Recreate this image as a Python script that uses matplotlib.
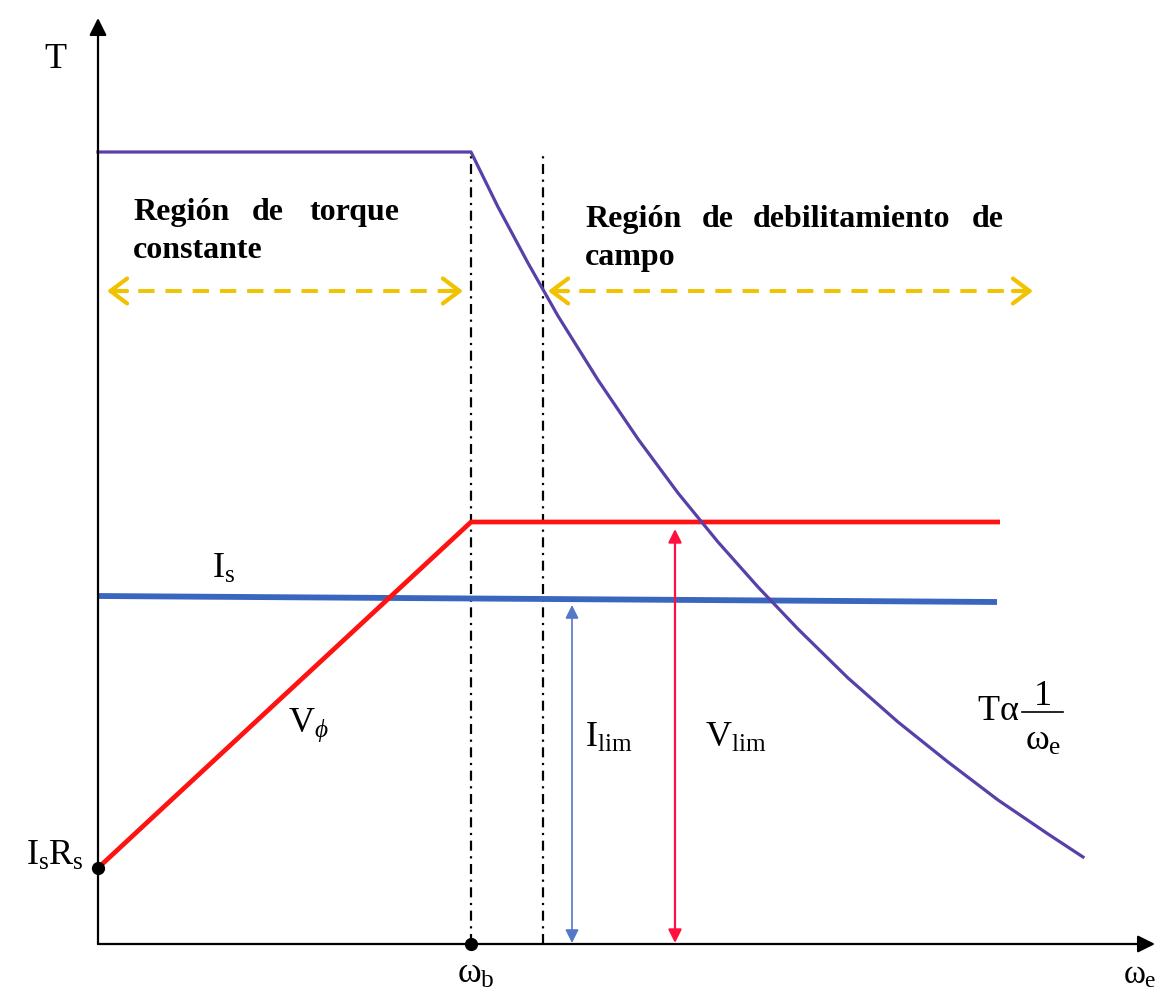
import matplotlib
matplotlib.use("Agg")
import matplotlib.pyplot as plt

plt.rcParams['font.family'] = ['Liberation Serif', 'DejaVu Serif']
plt.rcParams['mathtext.fontset'] = 'custom'
plt.rcParams['mathtext.rm'] = 'Liberation Serif'
plt.rcParams['mathtext.it'] = 'Liberation Serif'
plt.rcParams['mathtext.sf'] = 'Liberation Serif:italic'

# values (arbitrary units, origin at the axes corner)
omega_b = 373
omega_lim = 445
torque_w = [0, 373, 400, 430, 460, 500, 540, 580, 620, 660, 700, 750, 800, 850, 900, 950, 985]
torque_t = [792, 792, 737, 681, 628, 564, 505, 451, 402, 357, 315, 266, 222, 182, 144, 110, 87]
vphi_w = [0, 373, 902]
vphi_v = [76, 422, 422]
is_w = [0, 899]
is_i = [348, 342]
IsRs = 76
I_lim_w = 474
V_lim_w = 577
region_y = 653
region_left = (9, 365)
region_right = (450, 935)
x_end, y_end = 1057, 926

purple = '#5840a8'
red = '#ff1212'
blue = '#3a66c0'
yellow = '#f0c200'

fig = plt.figure(figsize=(11.58, 9.97), dpi=100)
ax = fig.add_axes([0, 0, 1, 1])
ax.set_xlim(-98, 1060)
ax.set_ylim(-53, 944)
ax.axis('off')

# axes with arrows
ax.annotate('', xy=(0, y_end), xytext=(0, 0),
            arrowprops=dict(arrowstyle='-|>', lw=1.6, color='black',
                            mutation_scale=26, shrinkA=0, shrinkB=0))
ax.annotate('', xy=(x_end, 0), xytext=(0, 0),
            arrowprops=dict(arrowstyle='-|>', lw=1.6, color='black',
                            mutation_scale=26, shrinkA=0, shrinkB=0))

# dash-dot guides
ax.plot([omega_b, omega_b], [0, torque_t[0]], color='black', lw=1.6,
        ls=(0, (4.5, 2.5, 1, 2.5)))
ax.plot([omega_lim, omega_lim], [0, torque_t[0] - 1], color='black', lw=1.6,
        ls=(0, (4.5, 2.5, 1, 2.5)))

# curves
ax.plot(is_w, is_i, color=blue, lw=4.2, solid_capstyle='butt')
ax.plot(vphi_w, vphi_v, color=red, lw=3.4, solid_capstyle='butt')
ax.plot(torque_w, torque_t, color=purple, lw=2.3)

# limit arrows
ax.annotate('', xy=(I_lim_w, is_i[1] - 3), xytext=(I_lim_w, 1),
            arrowprops=dict(arrowstyle='<|-|>', lw=1.2, color='#5577c8',
                            mutation_scale=20, shrinkA=0, shrinkB=0))
ax.annotate('', xy=(V_lim_w, vphi_v[2] - 7), xytext=(V_lim_w, 1),
            arrowprops=dict(arrowstyle='<|-|>', lw=1.6, color='#ff1040',
                            mutation_scale=20, shrinkA=0, shrinkB=0))

# yellow dashed double arrows
for a, b in (region_left, region_right):
    ax.plot([a + 4, b - 4], [region_y, region_y], color=yellow, lw=2.8,
            ls=(0, (4.2, 2.8)))
    for tip, tail in ((a, a + 20), (b, b - 20)):
        ax.annotate('', xy=(tip, region_y), xytext=(tail, region_y),
                    arrowprops=dict(arrowstyle='->,head_length=0.4,head_width=0.3',
                                    lw=3, color=yellow, mutation_scale=30,
                                    shrinkA=0, shrinkB=0))

# points
ax.plot([0], [IsRs], 'o', color='black', ms=8.5)
ax.plot([omega_b], [0], 'o', color='black', ms=8.5)

# labels
fs = 26
ax.text(-43, 876, 'T', fontsize=fs, ha='center', va='baseline')
ax.text(-14, 79, r'$I_sR_s$', fontsize=fs, ha='right', va='baseline')
ax.text(359, -39, r'$\omega_b$', fontsize=fs, ha='left', va='baseline')
ax.text(1059, -39, r'$\omega_e$', fontsize=24, ha='right', va='baseline')
ax.text(114, 366, r'$I_s$', fontsize=fs, ha='left', va='baseline')
ax.text(190, 212, r'$V_{\mathsf{\phi}}$', fontsize=fs, ha='left', va='baseline')
ax.text(487, 197, r'$I_{lim}$', fontsize=fs, ha='left', va='baseline')
ax.text(607, 197, r'$V_{lim}$', fontsize=fs, ha='left', va='baseline')

# T proportional to 1/omega_e, built as a stacked fraction
ax.text(879, 224, r'$T\alpha$', fontsize=fs, ha='left', va='baseline')
ax.plot([924, 965], [232, 232], color='black', lw=1.2)
ax.text(945, 239, '1', fontsize=fs, ha='center', va='baseline')
ax.text(927, 194, r'$\omega_e$', fontsize=fs, ha='left', va='baseline')

# region titles, justified word by word
bold = dict(fontsize=23, fontweight='bold', ha='left', va='baseline')
for word, x in (('Región', 35), ('de', 154), ('torque', 212)):
    ax.text(x, 724, word, **bold)
ax.text(35, 686, 'constante', **bold)
for word, x in (('Región', 487), ('de', 604), ('debilitamiento', 655), ('de', 874)):
    ax.text(x, 717, word, **bold)
ax.text(487, 679, 'campo', **bold)

fig.savefig('out.png', dpi=100)
